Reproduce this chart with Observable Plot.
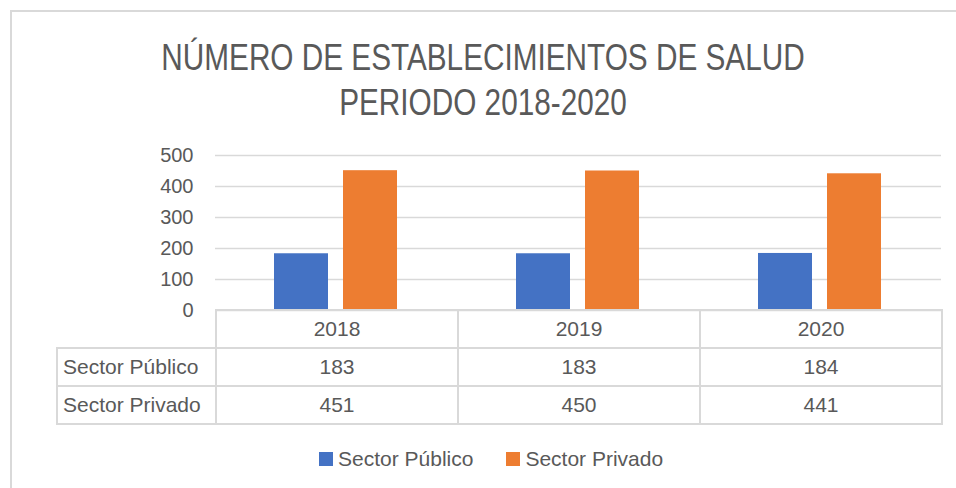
<!DOCTYPE html>
<html>
<head>
<meta charset="utf-8">
<script src="https://cdn.jsdelivr.net/npm/d3@7"></script>
<script src="https://cdn.jsdelivr.net/npm/@observablehq/plot@0.6"></script>
<style>
  html, body { margin: 0; padding: 0; background: #fff; overflow: hidden; }
  body { width: 956px; height: 488px; position: relative; font-family: "Liberation Sans", Arial, sans-serif; color: #595959; }
  #frame { position: absolute; left: 10px; top: 10px; width: 2000px; height: 2000px; border: 2px solid #d9d9d9; box-sizing: border-box; }
  #title { position: absolute; left: 0; width: 966px; top: 35px; text-align: center; font-family: "Liberation Sans", Arial, sans-serif; font-size: 36px; line-height: 45px; color: #595959; transform: scaleX(0.826); transform-origin: 483px 0; }
  #chart { position: absolute; left: 0; top: 0; }
  #table { position: absolute; left: 56px; top: 309px; border-collapse: collapse; table-layout: fixed; width: 885px; font-size: 21px; color: #595959; }
  #table td { border: 2px solid #d9d9d9; text-align: center; padding: 0; height: 36px; vertical-align: middle; white-space: nowrap; }
  #table td.rowlab { text-align: left; padding-left: 5px; }
  #table td.empty { border-top: none; border-left: none; }
  #legend { position: absolute; left: 319px; top: 448px; display: flex; align-items: center; font-size: 21px; line-height: 22px; color: #595959; }
  .sw { width: 14px; height: 14px; display: inline-block; margin-right: 5px; }
  .item { display: flex; align-items: center; margin-right: 33px; }
</style>
</head>
<body>
<div id="frame"></div>
<div id="chart"></div>
<div id="title">NÚMERO DE ESTABLECIMIENTOS DE SALUD<br>PERIODO 2018-2020</div>
<table id="table"></table>
<div id="legend"></div>
<script>
const years = ["2018", "2019", "2020"];
const series = ["Sector Público", "Sector Privado"];
const publico = [183, 183, 184];
const privado = [451, 450, 441];
const yTicks = [0, 100, 200, 300, 400, 500];
const colors = ["#4472C4", "#ED7D31"];

const seriesValues = [publico, privado];
const data = years.flatMap((yr, i) => series.map((s, j) => ({year: yr, serie: s, value: seriesValues[j][i]})));

const chart = Plot.plot({
  width: 956,
  height: 320,
  marginLeft: 215,
  marginRight: 15,
  marginTop: 155,
  marginBottom: 10,
  style: {fontFamily: "'Liberation Sans', Arial, sans-serif", fontSize: "20px", color: "#595959", background: "transparent"},
  fx: {domain: years, padding: 0, axis: null},
  x: {domain: series, paddingInner: 0.217, paddingOuter: 0.862, axis: null},
  y: {domain: [0, 500], ticks: yTicks, tickSize: 0, tickPadding: 22, label: null},
  color: {domain: series, range: colors},
  marks: [
    Plot.gridY(yTicks, {stroke: "#d9d9d9", strokeOpacity: 1, strokeWidth: 1.5}),
    Plot.barY(data, {fx: "year", x: "serie", y: "value", fill: "serie"})
  ]
});
document.getElementById("chart").appendChild(chart);

// data table
const table = document.getElementById("table");
const colgroup = document.createElement("colgroup");
[159, 242, 242, 242].forEach(w => { const c = document.createElement("col"); c.style.width = w + "px"; colgroup.appendChild(c); });
table.appendChild(colgroup);
const header = document.createElement("tr");
const empty = document.createElement("td"); empty.className = "empty"; header.appendChild(empty);
years.forEach(yr => { const td = document.createElement("td"); td.textContent = yr; header.appendChild(td); });
table.appendChild(header);
series.forEach((s, j) => {
  const tr = document.createElement("tr");
  const lab = document.createElement("td"); lab.className = "rowlab"; lab.textContent = s; tr.appendChild(lab);
  seriesValues[j].forEach(v => { const td = document.createElement("td"); td.textContent = v; tr.appendChild(td); });
  table.appendChild(tr);
});

// legend
const legend = document.getElementById("legend");
series.forEach((s, j) => {
  const item = document.createElement("span"); item.className = "item";
  const sw = document.createElement("span"); sw.className = "sw"; sw.style.background = colors[j];
  item.appendChild(sw);
  item.appendChild(document.createTextNode(s));
  legend.appendChild(item);
});
</script>
</body>
</html>
